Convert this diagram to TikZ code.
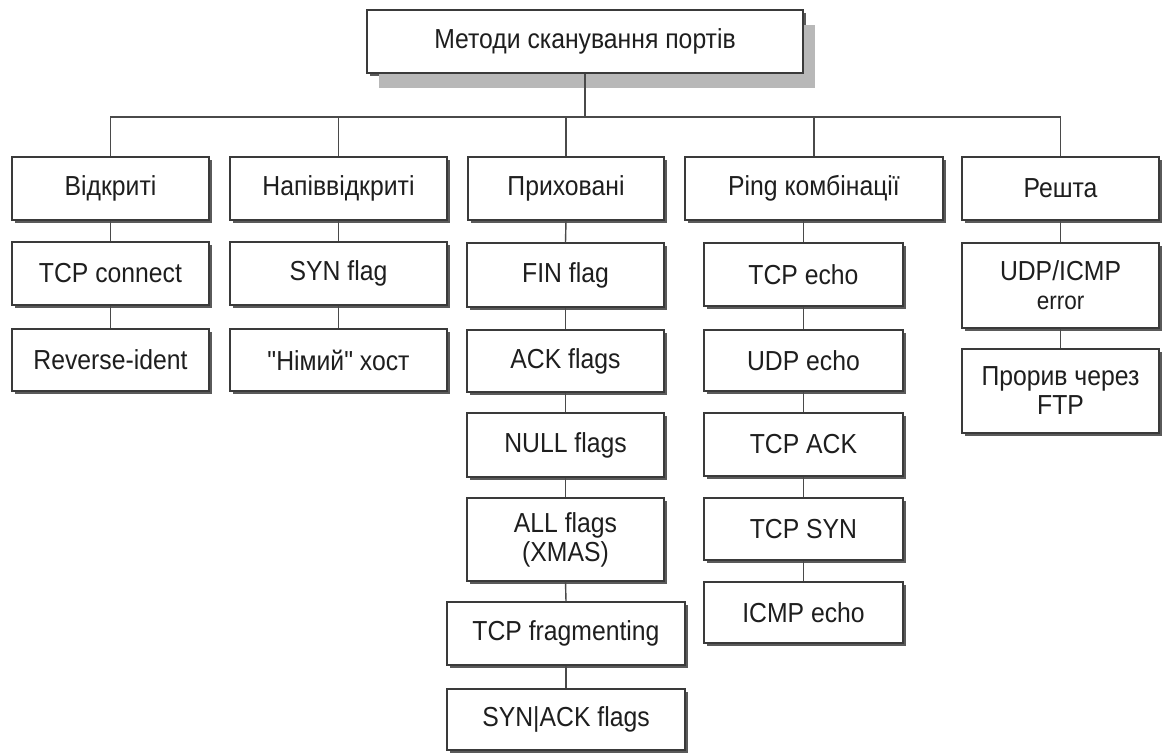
\documentclass[tikz,border=0pt]{standalone}
\usepackage{fontspec}
\newfontfamily\diagfont[FakeStretch=0.9]{Liberation Sans}
\usetikzlibrary{shadows}
\definecolor{edge}{HTML}{3A3A3A}
\definecolor{ink}{HTML}{1E1E1E}
\definecolor{darkshade}{HTML}{5A5A5A}
\definecolor{lightshade}{HTML}{B8B8B8}
\definecolor{wire}{HTML}{4A4A4A}

\begin{document}
\begin{tikzpicture}[x=1pt,y=-1pt,
  box/.style={draw=edge, line width=1.4pt, fill=white, text=ink,
    inner sep=0pt, align=center,
    font=\diagfont\fontsize{27.5}{29}\selectfont,
    general shadow={fill=darkshade, shadow xshift=2.5pt, shadow yshift=-2.5pt}},
  rootbox/.style={box,
    general shadow={fill=lightshade, shadow xshift=12pt, shadow yshift=-15pt}},
  sz/.style 2 args={minimum width=#1pt, minimum height=#2pt},
  link/.style={draw=wire, line width=1.4pt}]

\useasboundingbox (0,0) rectangle (1165,753);
\fill[white] (0,0) rectangle (1165,753);

% root
\node[rootbox, sz={436}{63}] (root) at (585,41.5) {Методи сканування портів};

% first level
\node[box, sz={197}{63}] (open)  at (110.5,188.5) {Відкриті};
\node[box, sz={217}{63}] (half)  at (338.5,188.5) {Напіввідкриті};
\node[box, sz={196}{63}] (stealth) at (566,188.5) {Приховані};
\node[box, sz={258}{63}] (ping)  at (814,188.5) {Ping комбінації};
\node[box, sz={197}{63}] (other) at (1060.5,188.5) {Решта};

% open scans
\node[box, sz={197}{63}] (tcpconn) at (110.5,273.5) {TCP connect};
\node[box, sz={197}{62}] (revid)   at (110.5,360) {Reverse-ident};

% half-open scans
\node[box, sz={217}{63}] (synflag) at (338.5,273.5) {SYN flag};
\node[box, sz={217}{62}] (mute)    at (338.5,360) {"Німий" хост};

% stealth scans
\node[box, sz={197}{64}] (fin)    at (565.5,275) {FIN flag};
\node[box, sz={197}{62}] (ackf)   at (565.5,361) {ACK flags};
\node[box, sz={197}{64}] (nullf)  at (565.5,445) {NULL flags};
\node[box, sz={197}{83}] (xmas)   at (565.5,539.5) {ALL flags\\(XMAS)};
\node[box, sz={238}{63}] (frag)   at (566,633.5) {TCP fragmenting};
\node[box, sz={238}{61}] (synack) at (566,719.5) {SYN|ACK flags};

% ping combinations
\node[box, sz={199}{63}] (tcpecho) at (803.5,274.5) {TCP echo};
\node[box, sz={199}{61}] (udpecho) at (803.5,360.5) {UDP echo};
\node[box, sz={199}{63}] (tcpack)  at (803.5,444.5) {TCP ACK};
\node[box, sz={199}{62}] (tcpsyn)  at (803.5,529) {TCP SYN};
\node[box, sz={199}{61}] (icmp)    at (803.5,612.5) {ICMP echo};

% other methods
\node[box, sz={197}{85}] (udperr) at (1060.5,285.5) {UDP/ICMP\\{\fontsize{25}{27}\selectfont error}};
\node[box, sz={197}{84}] (ftp)    at (1060.5,391) {Прорив через\\FTP};

% bus from the root to the first level
\coordinate (bus) at (0,117);
\draw[link] (root.south) -- (root.south |- bus);
\draw[link] (open.north) -- (open.north |- bus) -| (other.north);
\draw[link] (half.north) -- (half.north |- bus);
\draw[link] (stealth.north) -- (stealth.north |- bus);
\draw[link] (ping.north) -- (ping.north |- bus);

% column chains
\draw[link] (open.south) -- (tcpconn.north);
\draw[link] (tcpconn.south) -- (revid.north);
\draw[link] (half.south) -- (synflag.north);
\draw[link] (synflag.south) -- (mute.north);
\draw[link] (stealth.south) -- (fin.north);
\draw[link] (fin.south) -- (ackf.north);
\draw[link] (ackf.south) -- (nullf.north);
\draw[link] (nullf.south) -- (xmas.north);
\draw[link] (xmas.south) -- (frag.north);
\draw[link] (frag.south) -- (synack.north);
\draw[link] (ping.south -| tcpecho.north) -- (tcpecho.north);
\draw[link] (tcpecho.south) -- (udpecho.north);
\draw[link] (udpecho.south) -- (tcpack.north);
\draw[link] (tcpack.south) -- (tcpsyn.north);
\draw[link] (tcpsyn.south) -- (icmp.north);
\draw[link] (other.south) -- (udperr.north);
\draw[link] (udperr.south) -- (ftp.north);
\end{tikzpicture}
\end{document}
